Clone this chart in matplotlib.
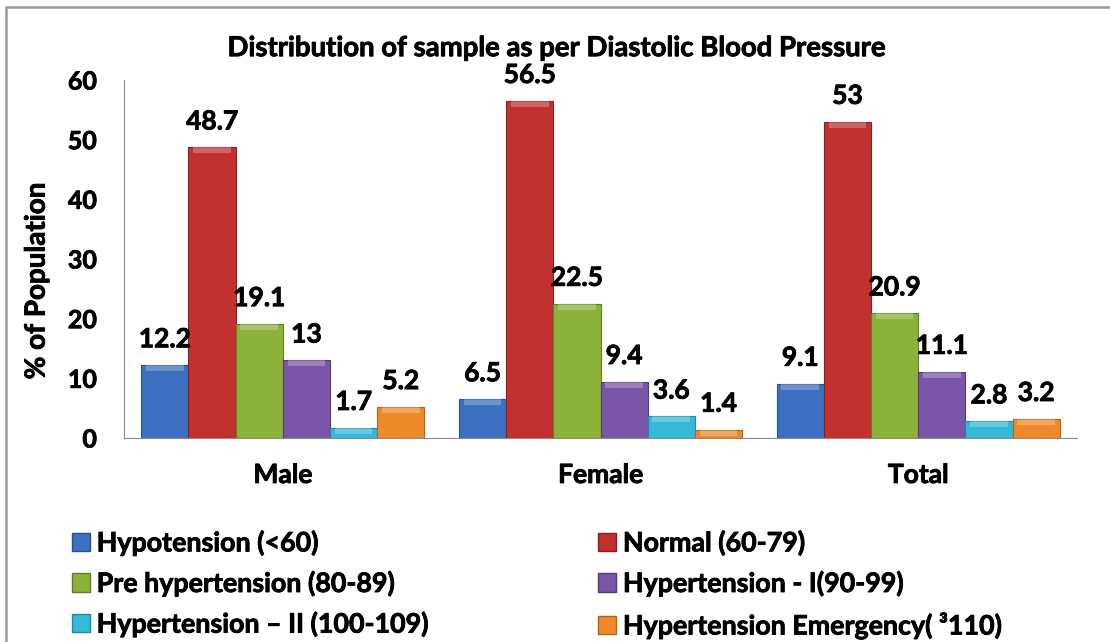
import matplotlib
matplotlib.use("Agg")
import matplotlib.pyplot as plt
from matplotlib import font_manager
from matplotlib.font_manager import FontProperties
from matplotlib.patches import Rectangle, Patch
import matplotlib.patheffects as pe
import numpy as np


def wnum(w):
    if isinstance(w, int):
        return w
    return font_manager.weight_dict.get(w, 400)


# find a real bold face file (Calibri-like families first)
bold_path = None
for cand in ['Lato', 'Open Sans', 'Noto Sans', 'Roboto', 'DejaVu Sans']:
    faces = [f for f in font_manager.fontManager.ttflist
             if f.name == cand and f.style == 'normal' and 650 <= wnum(f.weight) <= 800]
    if faces:
        bold_path = faces[0].fname
        break


def fp(size):
    return FontProperties(fname=bold_path, size=size)


groups = ['Male', 'Female', 'Total']
series = ['Hypotension (<60)', 'Normal (60-79)', 'Pre hypertension (80-89)',
          'Hypertension - I(90-99)', 'Hypertension \u2013 II (100-109)',
          'Hypertension Emergency( \u00b3110)']
hypotension = [12.2, 6.5, 9.1]
normal = [48.7, 56.5, 53]
pre_hyper = [19.1, 22.5, 20.9]
hyper_1 = [13, 9.4, 11.1]
hyper_2 = [1.7, 3.6, 2.8]
emergency = [5.2, 1.4, 3.2]
values = [hypotension, normal, pre_hyper, hyper_1, hyper_2, emergency]
labels = [['12.2', '6.5', '9.1'], ['48.7', '56.5', '53'], ['19.1', '22.5', '20.9'],
          ['13', '9.4', '11.1'], ['1.7', '3.6', '2.8'], ['5.2', '1.4', '3.2']]

colors = ['#3d70c0', '#c0312f', '#8cb23a', '#7a56a8', '#35b9d9', '#ef8a2a']
edges = ['#2a5090', '#8a1f1f', '#627d25', '#553a7a', '#2088a3', '#b5621a']

fig = plt.figure(figsize=(11.1, 6.42), dpi=100)
ax = fig.add_axes([0.1117, 0.3178, 0.9703 - 0.1117, 0.8754 - 0.3178])

x = np.arange(len(groups))
w = 0.1485
for i, vals in enumerate(values):
    pos = x + (i - 2.5) * w
    bars = ax.bar(pos, vals, width=w, color=colors[i], edgecolor=edges[i], linewidth=0.8, zorder=2)
    # lighter cap to hint the bevel
    ax.bar(pos, [min(v, 1.0) for v in vals], bottom=[v - min(v, 1.0) for v in vals],
           width=w * 0.8, color='white', alpha=0.25, linewidth=0, zorder=3)
    for b, lab in zip(bars, labels[i]):
        ax.annotate(lab, (b.get_x() + b.get_width() / 2, b.get_height()),
                    xytext=(0, 10), textcoords='offset points', ha='center', va='bottom',
                    fontproperties=fp(19))

ax.set_xlim(-0.5, 2.5)
ax.set_ylim(0, 60)
ax.set_yticks(range(0, 61, 10))
ax.set_xticks(x)
ax.set_xticklabels(groups)
for t in ax.get_yticklabels():
    t.set_fontproperties(fp(18))
for t in ax.get_xticklabels():
    t.set_fontproperties(fp(19))
ax.tick_params(axis='both', length=0)
ax.tick_params(axis='y', pad=19.5)
ax.tick_params(axis='x', pad=18)
for s in ['top', 'right']:
    ax.spines[s].set_visible(False)
for s in ['left', 'bottom']:
    ax.spines[s].set_color('#8c8c8c')
ax.set_ylabel('% of Population', fontproperties=fp(20))
ax.yaxis.set_label_coords(-0.078, 0.4385)

fig.text(0.501, 0.925, 'Distribution of sample as per Diastolic Blood Pressure',
         ha='center', va='center', fontproperties=fp(19.8))

handles = [Patch(facecolor=colors[i], edgecolor=edges[i]) for i in range(6)]
kw = dict(loc='upper left', frameon=False, prop=fp(19.3), handlelength=0.67,
          handleheight=0.67, handletextpad=0.25, labelspacing=0.57, borderaxespad=0,
          borderpad=0)
fig.legend([handles[0], handles[2], handles[4]], [series[0], series[2], series[4]],
           bbox_to_anchor=(0.0649, 0.174), **kw)
fig.legend([handles[1], handles[3], handles[5]], [series[1], series[3], series[5]],
           bbox_to_anchor=(0.539, 0.174), **kw)

# outer chart border (only left and top edges fall inside the picture)
fig.patches.append(Rectangle((0.0055, -0.05), 1.1, 1.039, transform=fig.transFigure,
                             fill=False, edgecolor='#9a9a9a', linewidth=1.8))

# thicken the strokes a little, closer to the heavy original lettering
for t in fig.findobj(matplotlib.text.Text):
    t.set_path_effects([pe.withStroke(linewidth=0.6, foreground='black')])

fig.savefig('out.png', dpi=100)
